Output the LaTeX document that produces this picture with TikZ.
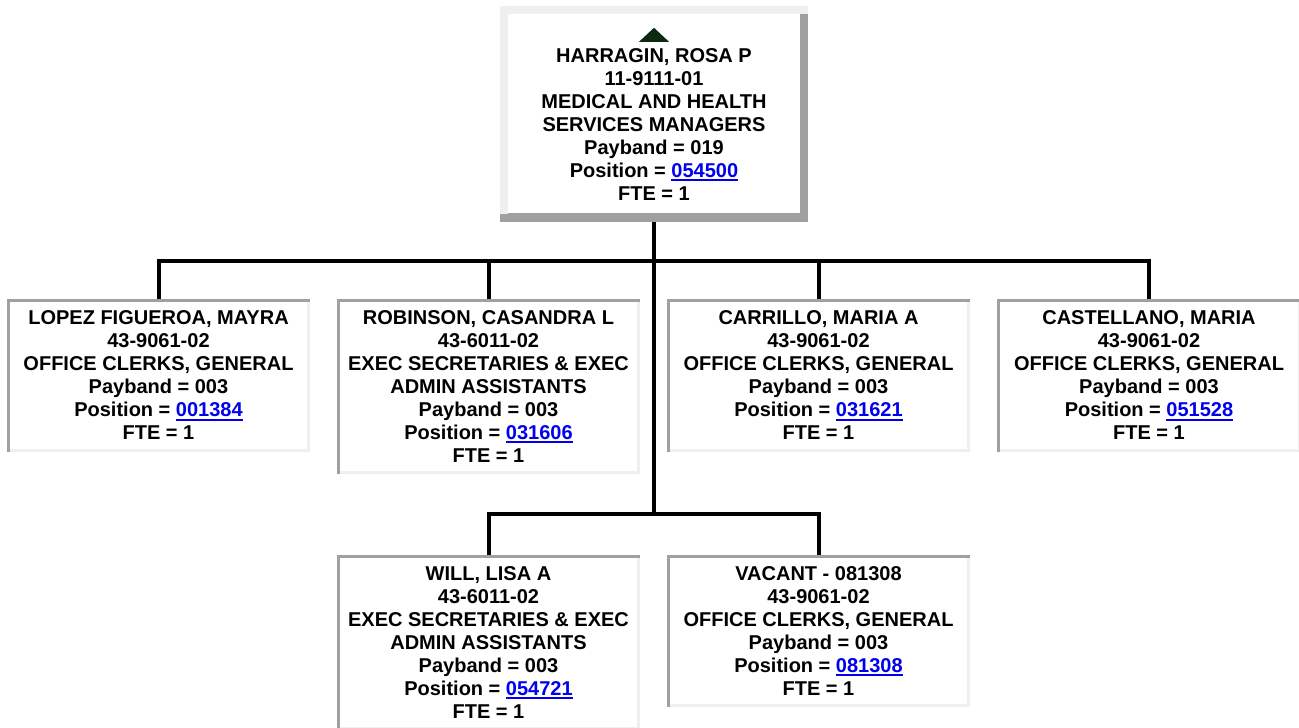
\documentclass[tikz,border=0pt]{standalone}
\usepackage{fontspec}
\setmainfont{Liberation Sans}
\usepackage{xcolor}
\definecolor{lightg}{HTML}{EFEFEF}
\definecolor{darkg}{HTML}{A0A0A0}
\definecolor{linkblue}{HTML}{0000EE}
\definecolor{trigreen}{HTML}{0C2A12}
\newcommand\lnk[1]{{\color{linkblue}\sbox0{#1}\rlap{\rule[-3.6pt]{\wd0}{1.9pt}}\usebox0}}
\tikzset{
  boxtext/.style={align=center, font=\fontsize{20}{23}\selectfont\bfseries, inner sep=0pt, text=black},
  childbox/.style={boxtext, fill=lightg, minimum width=303pt, path picture={
    \fill[darkg] (path picture bounding box.north west) rectangle ([yshift=-3.2pt]path picture bounding box.north east);
    \fill[darkg] (path picture bounding box.north west) rectangle ([xshift=3.2pt]path picture bounding box.south west);
    \fill[white] ([xshift=3.2pt,yshift=-3.2pt]path picture bounding box.north west) rectangle ([xshift=-3.2pt,yshift=3.2pt]path picture bounding box.south east);
  }},
  topbox/.style={boxtext, fill=darkg, minimum width=308pt, minimum height=216pt, path picture={
    \fill[lightg] (path picture bounding box.north west) rectangle ([yshift=-8pt]path picture bounding box.north east);
    \fill[lightg] (path picture bounding box.north west) rectangle ([xshift=8pt,yshift=8pt]path picture bounding box.south west);
    \fill[white] ([xshift=8pt,yshift=-8pt]path picture bounding box.north west) rectangle ([xshift=-8pt,yshift=9pt]path picture bounding box.south east);
  }},
  conn/.style={line width=4pt, black}
}
\begin{document}
\begin{tikzpicture}[x=1pt,y=1pt]
\useasboundingbox (0,0) rectangle (1299,728);

\node[topbox] (top) at (654,614) {\rule{0pt}{35pt}HARRAGIN, ROSA P\\11-9111-01\\MEDICAL AND HEALTH\\SERVICES MANAGERS\\Payband = 019\\Position = \lnk{054500}\\FTE = 1};
\fill[trigreen] ([yshift=-22pt]top.north) -- ([xshift=-15pt,yshift=-36pt]top.north) -- ([xshift=15pt,yshift=-36pt]top.north) -- cycle;

\node[childbox, minimum height=153pt] (lopez) at (158.5,352.5) {LOPEZ FIGUEROA, MAYRA\\43-9061-02\\OFFICE CLERKS, GENERAL\\Payband = 003\\Position = \lnk{001384}\\FTE = 1};
\node[childbox, minimum height=175pt] (robinson) at (488.5,341.5) {ROBINSON, CASANDRA L\\43-6011-02\\EXEC SECRETARIES \& EXEC\\ADMIN ASSISTANTS\\Payband = 003\\Position = \lnk{031606}\\FTE = 1};
\node[childbox, minimum height=153pt] (carrillo) at (818.5,352.5) {CARRILLO, MARIA A\\43-9061-02\\OFFICE CLERKS, GENERAL\\Payband = 003\\Position = \lnk{031621}\\FTE = 1};
\node[childbox, minimum height=153pt, minimum width=305pt] (castellano) at (1149,352.5) {CASTELLANO, MARIA\\43-9061-02\\OFFICE CLERKS, GENERAL\\Payband = 003\\Position = \lnk{051528}\\FTE = 1};
\node[childbox, minimum height=175pt] (will) at (488.5,85.5) {WILL, LISA A\\43-6011-02\\EXEC SECRETARIES \& EXEC\\ADMIN ASSISTANTS\\Payband = 003\\Position = \lnk{054721}\\FTE = 1};
\node[childbox, minimum height=152pt] (vacant) at (818.5,97) {VACANT - 081308\\43-9061-02\\OFFICE CLERKS, GENERAL\\Payband = 003\\Position = \lnk{081308}\\FTE = 1};

\coordinate (j1) at (654,467);
\coordinate (j2) at (654,214);
\draw[conn] (top.south) -- (j2);
\draw[conn] (lopez.north) |- (j1) -| (castellano.north);
\draw[conn] (robinson.north) -- (robinson.north |- j1);
\draw[conn] (carrillo.north) -- (carrillo.north |- j1);
\draw[conn] (will.north) |- (j2) -| (vacant.north);
\end{tikzpicture}
\end{document}
